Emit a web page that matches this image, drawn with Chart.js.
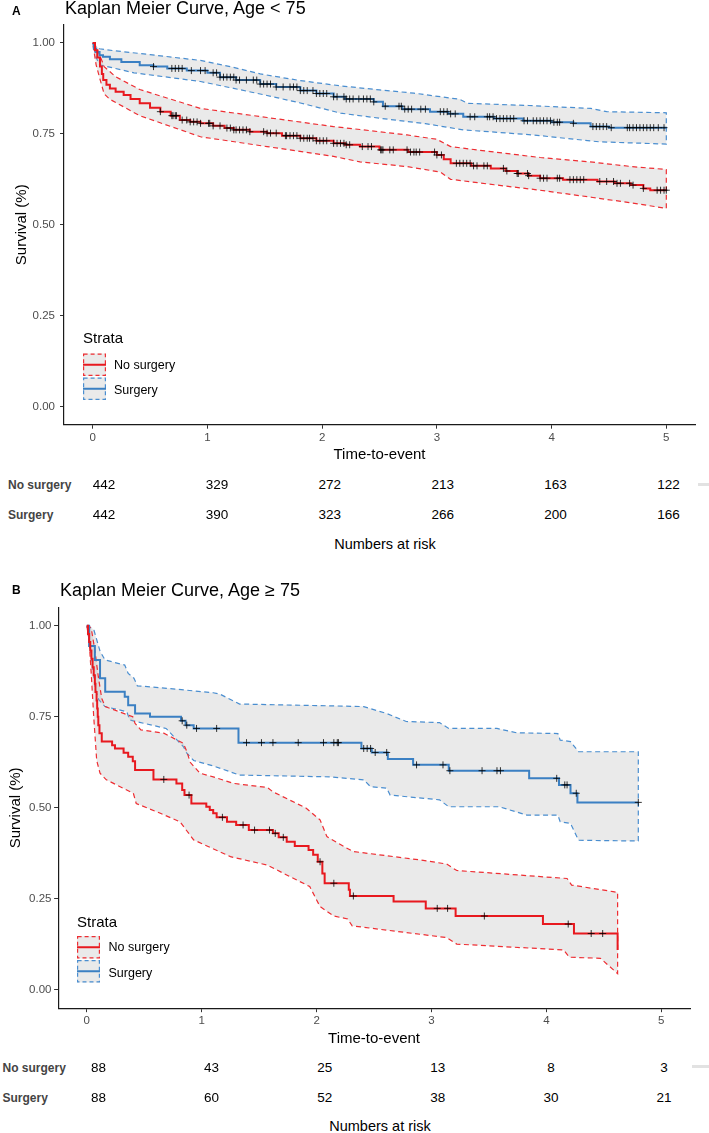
<!DOCTYPE html>
<html>
<head>
<meta charset="utf-8">
<script src="https://cdn.jsdelivr.net/npm/chart.js@4.4.0/dist/chart.umd.min.js"></script>
<style>
  body { margin: 0; background: #fff; width: 709px; height: 1133px; position: relative; overflow: hidden;
         font-family: "Liberation Sans", Arial, sans-serif; }
  canvas { position: absolute; left: 0; }
  .t { position: absolute; white-space: nowrap; line-height: 1; }
</style>
</head>
<body>
<canvas id="chartA" width="709" height="470" style="top:0px"></canvas>
<canvas id="chartB" width="709" height="470" style="top:582px"></canvas>
<script>
const FONT = '"Liberation Sans", Arial, sans-serif';
const TICK_COL = '#4D4D4D';
const RED = '#E8191F', RED_DASH = '#EE2E33';
const BLUE = '#3B80C3', BLUE_DASH = '#4A8ED0';
const BAND_FILL = 'rgba(170,170,170,0.25)';
const MARK = 'rgba(0,0,0,0.8)';

const xTicks = [0, 1, 2, 3, 4, 5];
const yTicks = [0, 0.25, 0.5, 0.75, 1];
const strata = ['No surgery', 'Surgery'];

// ---- Panel A : Age < 75 ----
const aNoTime = [0, 0.02, 0.04, 0.064, 0.08, 0.092, 0.12, 0.15, 0.20, 0.27, 0.33, 0.41, 0.50, 0.59, 0.68, 0.76, 0.85, 0.94, 1.05, 1.15, 1.23, 1.37, 1.52, 1.65, 1.81, 1.95, 2.10, 2.20, 2.33, 2.50, 2.75, 3.00, 3.06, 3.12, 3.30, 3.47, 3.60, 3.70, 3.80, 3.90, 4.10, 4.40, 4.55, 4.69, 4.80, 4.86, 5.00];
const aNoSurv = [1, 0.98, 0.96, 0.935, 0.915, 0.898, 0.885, 0.875, 0.866, 0.857, 0.846, 0.834, 0.822, 0.811, 0.800, 0.788, 0.783, 0.779, 0.772, 0.766, 0.761, 0.756, 0.752, 0.745, 0.738, 0.731, 0.724, 0.720, 0.715, 0.706, 0.700, 0.692, 0.680, 0.669, 0.662, 0.655, 0.648, 0.641, 0.635, 0.628, 0.624, 0.619, 0.614, 0.609, 0.600, 0.595, 0.595];
const aNoUpTime = [0, 0.03, 0.064, 0.10, 0.20, 0.41, 0.94, 1.52, 2.10, 2.33, 2.74, 3.00, 3.12, 3.50, 3.90, 4.36, 4.70, 5.00];
const aNoUp = [1, 0.99, 0.965, 0.935, 0.907, 0.872, 0.820, 0.795, 0.770, 0.762, 0.747, 0.735, 0.715, 0.700, 0.685, 0.672, 0.660, 0.652];
const aNoLoTime = [0, 0.03, 0.064, 0.10, 0.15, 0.41, 0.94, 1.52, 2.10, 2.33, 2.74, 3.03, 3.12, 3.50, 3.90, 4.36, 4.70, 5.00];
const aNoLo = [1, 0.94, 0.90, 0.86, 0.845, 0.800, 0.742, 0.715, 0.688, 0.673, 0.660, 0.645, 0.625, 0.610, 0.595, 0.575, 0.560, 0.545];
const aNoCens = [0.59, 0.69, 0.70, 0.72, 0.73, 0.78, 0.82, 0.85, 0.88, 0.91, 0.94, 1.01, 1.02, 1.05, 1.11, 1.17, 1.20, 1.23, 1.25, 1.28, 1.31, 1.34, 1.37, 1.49, 1.52, 1.55, 1.60, 1.68, 1.69, 1.72, 1.75, 1.78, 1.81, 1.84, 1.87, 1.89, 1.92, 1.95, 1.98, 2.01, 2.04, 2.10, 2.13, 2.16, 2.19, 2.21, 2.24, 2.35, 2.40, 2.43, 2.51, 2.52, 2.53, 2.59, 2.62, 2.74, 2.77, 2.80, 2.82, 2.85, 2.98, 3.00, 3.04, 3.17, 3.20, 3.23, 3.26, 3.29, 3.32, 3.35, 3.41, 3.44, 3.58, 3.61, 3.70, 3.71, 3.79, 3.80, 3.90, 3.93, 3.96, 4.05, 4.07, 4.16, 4.19, 4.22, 4.25, 4.28, 4.42, 4.48, 4.54, 4.57, 4.60, 4.68, 4.71, 4.80, 4.92, 4.95, 4.98, 5.00];

const aSuTime = [0, 0.01, 0.03, 0.06, 0.09, 0.15, 0.25, 0.41, 0.53, 0.65, 0.82, 1.00, 1.11, 1.25, 1.46, 1.60, 1.81, 1.95, 2.10, 2.20, 2.45, 2.53, 2.70, 2.94, 3.10, 3.23, 3.50, 3.75, 4.00, 4.19, 4.34, 4.50, 5.00];
const aSuSurv = [1, 0.985, 0.975, 0.966, 0.962, 0.955, 0.948, 0.939, 0.935, 0.930, 0.924, 0.918, 0.906, 0.898, 0.887, 0.879, 0.869, 0.861, 0.852, 0.846, 0.838, 0.826, 0.818, 0.811, 0.805, 0.797, 0.792, 0.786, 0.782, 0.779, 0.770, 0.767, 0.767];
const aSuUpTime = [0, 0.03, 0.06, 0.18, 0.50, 0.94, 1.20, 1.46, 1.80, 2.16, 2.50, 2.80, 3.20, 3.27, 3.80, 4.34, 4.48, 5.00];
const aSuUp = [1, 0.99, 0.984, 0.979, 0.968, 0.952, 0.935, 0.915, 0.897, 0.882, 0.871, 0.862, 0.845, 0.834, 0.828, 0.820, 0.811, 0.808];
const aSuLoTime = [0, 0.03, 0.06, 0.36, 0.94, 1.23, 1.50, 1.81, 2.16, 2.50, 2.90, 3.23, 3.84, 4.42, 5.00];
const aSuLo = [1, 0.96, 0.94, 0.918, 0.894, 0.875, 0.857, 0.835, 0.807, 0.793, 0.778, 0.761, 0.747, 0.728, 0.722];
const aSuCens = [0.53, 0.69, 0.72, 0.75, 0.78, 0.86, 0.94, 0.98, 1.05, 1.08, 1.11, 1.14, 1.17, 1.20, 1.23, 1.25, 1.28, 1.34, 1.40, 1.43, 1.46, 1.49, 1.52, 1.55, 1.60, 1.66, 1.72, 1.75, 1.78, 1.81, 1.84, 1.87, 1.92, 1.95, 1.98, 2.01, 2.04, 2.10, 2.13, 2.19, 2.21, 2.24, 2.27, 2.32, 2.36, 2.39, 2.42, 2.45, 2.55, 2.67, 2.69, 2.72, 2.75, 2.78, 2.86, 2.90, 3.03, 3.06, 3.09, 3.12, 3.16, 3.29, 3.33, 3.44, 3.46, 3.49, 3.52, 3.55, 3.58, 3.61, 3.64, 3.67, 3.76, 3.79, 3.84, 3.87, 3.90, 3.93, 3.96, 3.99, 4.02, 4.05, 4.07, 4.19, 4.36, 4.39, 4.42, 4.45, 4.48, 4.52, 4.66, 4.68, 4.71, 4.74, 4.77, 4.80, 4.83, 4.86, 4.89, 4.93, 4.98];

const riskANo = [442, 329, 272, 213, 163, 122];
const riskASu = [442, 390, 323, 266, 200, 166];

// ---- Panel B : Age >= 75 ----
const bNoTime = [0, 0.01, 0.02, 0.03, 0.04, 0.05, 0.06, 0.07, 0.075, 0.085, 0.09, 0.095, 0.10, 0.11, 0.13, 0.22, 0.245, 0.32, 0.36, 0.40, 0.42, 0.58, 0.78, 0.83, 0.85, 0.91, 1.04, 1.07, 1.10, 1.13, 1.22, 1.30, 1.41, 1.62, 1.67, 1.74, 1.81, 1.93, 1.97, 2.01, 2.05, 2.07, 2.28, 2.29, 2.67, 2.95, 3.21, 3.97, 4.24, 4.62];
const bNoSurv = [1, 0.977, 0.955, 0.932, 0.909, 0.886, 0.864, 0.841, 0.818, 0.795, 0.773, 0.750, 0.727, 0.705, 0.682, 0.672, 0.663, 0.651, 0.640, 0.628, 0.604, 0.578, 0.567, 0.549, 0.535, 0.512, 0.503, 0.494, 0.485, 0.474, 0.462, 0.453, 0.439, 0.430, 0.419, 0.407, 0.395, 0.384, 0.371, 0.352, 0.320, 0.293, 0.275, 0.258, 0.243, 0.224, 0.203, 0.181, 0.155, 0.110];
const bNoUpTime = [0, 0.02, 0.04, 0.07, 0.10, 0.13, 0.16, 0.40, 0.42, 0.47, 0.67, 0.84, 0.87, 0.90, 0.985, 1.10, 1.28, 1.57, 1.62, 1.91, 2.03, 2.09, 2.26, 2.32, 2.90, 3.13, 3.22, 4.18, 4.22, 4.58, 4.62];
const bNoUp = [1, 1, 0.99, 0.933, 0.860, 0.800, 0.778, 0.750, 0.732, 0.714, 0.705, 0.677, 0.655, 0.625, 0.595, 0.585, 0.567, 0.556, 0.544, 0.499, 0.467, 0.421, 0.390, 0.380, 0.357, 0.346, 0.328, 0.306, 0.288, 0.270, 0.268];
const bNoLoTime = [0, 0.02, 0.04, 0.06, 0.086, 0.115, 0.17, 0.405, 0.43, 0.64, 0.81, 0.93, 1.25, 1.57, 1.77, 1.94, 2.03, 2.15, 2.27, 2.31, 3.13, 3.22, 4.15, 4.20, 4.47, 4.62];
const bNoLo = [1, 0.96, 0.86, 0.75, 0.63, 0.595, 0.577, 0.540, 0.512, 0.485, 0.462, 0.412, 0.366, 0.343, 0.311, 0.284, 0.229, 0.203, 0.195, 0.176, 0.144, 0.126, 0.110, 0.090, 0.087, 0.045];
const bNoCens = [0.67, 0.89, 1.18, 1.36, 1.46, 1.59, 1.64, 1.71, 2.03, 2.15, 2.32, 3.05, 3.14, 3.46, 4.19, 4.39, 4.49];

const bSuTime = [0, 0.02, 0.07, 0.115, 0.16, 0.33, 0.36, 0.42, 0.55, 0.82, 0.86, 0.93, 1.32, 2.39, 2.48, 2.62, 2.84, 3.15, 3.85, 4.11, 4.21, 4.27, 4.80];
const bSuSurv = [1, 0.944, 0.906, 0.856, 0.819, 0.805, 0.782, 0.759, 0.750, 0.739, 0.727, 0.718, 0.679, 0.663, 0.652, 0.634, 0.618, 0.602, 0.581, 0.563, 0.540, 0.515, 0.515];
const bSuUpTime = [0, 0.06, 0.115, 0.158, 0.33, 0.36, 0.41, 0.44, 0.70, 1.10, 1.16, 1.33, 2.12, 2.41, 2.61, 2.78, 3.07, 3.15, 3.57, 3.74, 4.10, 4.12, 4.21, 4.28, 4.80];
const bSuUp = [1, 0.99, 0.93, 0.906, 0.892, 0.869, 0.856, 0.835, 0.828, 0.816, 0.812, 0.785, 0.780, 0.778, 0.759, 0.737, 0.734, 0.718, 0.718, 0.706, 0.704, 0.686, 0.682, 0.654, 0.654];
const bSuLoTime = [0, 0.02, 0.046, 0.075, 0.104, 0.158, 0.347, 0.375, 0.69, 0.84, 0.87, 0.93, 1.10, 1.33, 2.12, 2.41, 2.47, 2.61, 2.64, 3.07, 3.15, 3.59, 3.83, 4.10, 4.12, 4.21, 4.28, 4.80];
const bSuLo = [1, 0.96, 0.897, 0.824, 0.797, 0.778, 0.764, 0.741, 0.718, 0.668, 0.650, 0.630, 0.615, 0.590, 0.585, 0.577, 0.558, 0.554, 0.535, 0.522, 0.503, 0.503, 0.480, 0.480, 0.462, 0.457, 0.411, 0.409];
const bSuCens = [0.83, 0.87, 0.955, 1.13, 1.39, 1.52, 1.62, 1.84, 2.06, 2.15, 2.18, 2.19, 2.41, 2.44, 2.47, 2.51, 2.61, 2.87, 3.10, 3.16, 3.44, 3.57, 3.60, 4.09, 4.16, 4.18, 4.26, 4.80];

const riskBNo = [88, 43, 25, 13, 8, 3];
const riskBSu = [88, 60, 52, 38, 30, 21];

function pts(ts, vs) {
  return ts.map((t, i) => ({ x: t, y: vs[i] }));
}

// survival value of the step curve at time t (censor marks sit on the curve)
function stepAt(ts, vs, t) {
  let v = vs[0];
  for (let i = 0; i < ts.length; i++) {
    if (ts[i] <= t) v = vs[i]; else break;
  }
  return v;
}

function kmSets(time, surv, upT, up, loT, lo, cens, color, dash) {
  const band = pts(upT, up).concat(pts(loT, lo).reverse());
  return [
    { data: band, fill: 'shape', backgroundColor: BAND_FILL, borderColor: dash, borderWidth: 1.2,
      borderDash: [5, 3.5], pointRadius: 0, order: 2 },
    { data: pts(time, surv), stepped: true, fill: false, borderColor: color, borderWidth: 2,
      pointRadius: 0, order: 1 },
    { data: cens.map(t => ({ x: t, y: stepAt(time, surv, t) })), showLine: false, pointStyle: 'cross',
      pointRadius: 3.5, pointBorderColor: MARK, pointBackgroundColor: MARK, pointBorderWidth: 1, order: 0 }
  ];
}

function legendKeys(g) {
  return {
    id: 'strataKeys',
    afterDatasetsDraw(chart) {
      const c = chart.ctx;
      [[RED, RED_DASH], [BLUE, BLUE_DASH]].forEach(([lc, dc], i) => {
        const x = g.keyX, y = g.keyY - g.top + i * g.keyStep, w = 23, h = 22.5;
        c.save();
        c.fillStyle = BAND_FILL;
        c.fillRect(x, y, w, h);
        c.strokeStyle = dc; c.lineWidth = 1.2; c.setLineDash([4, 3]);
        c.strokeRect(x + 0.6, y + 0.6, w - 1.2, h - 1.2);
        c.setLineDash([]); c.strokeStyle = lc; c.lineWidth = 2;
        c.beginPath(); c.moveTo(x, y + h / 2); c.lineTo(x + w, y + h / 2); c.stroke();
        c.restore();
      });
    }
  };
}

function makeChart(id, datasets, g) {
  return new Chart(document.getElementById(id), {
    type: 'line',
    data: { datasets },
    options: {
      responsive: false,
      animation: false,
      devicePixelRatio: 1,
      layout: { padding: { left: 0, right: g.padR, top: g.padT, bottom: 0 } },
      plugins: { legend: { display: false }, tooltip: { enabled: false } },
      elements: { line: { tension: 0 } },
      scales: {
        x: {
          type: 'linear', min: -0.25, max: 5.25,
          afterBuildTicks: ax => { ax.ticks = xTicks.map(v => ({ value: v })); },
          afterFit: ax => { ax.height = g.xH; },
          ticks: { color: TICK_COL, font: { family: FONT, size: 11.5 }, padding: g.xTickPad,
                   autoSkip: false, maxRotation: 0, callback: v => String(v) },
          grid: { drawOnChartArea: false, drawTicks: true, tickLength: 4, tickColor: '#333', tickWidth: 1 },
          border: { display: true, color: '#1a1a1a', width: 1.2 },
          title: { display: true, text: 'Time-to-event', color: '#000', font: { family: FONT, size: 15 },
                   padding: { top: 0, bottom: g.xTitlePad } }
        },
        y: {
          type: 'linear', min: -0.05, max: 1.05,
          afterBuildTicks: ax => { ax.ticks = yTicks.map(v => ({ value: v })); },
          afterFit: ax => { ax.width = g.yW; },
          ticks: { color: TICK_COL, font: { family: FONT, size: 11.5 }, padding: g.yTickPad,
                   callback: v => Number(v).toFixed(2) },
          grid: { drawOnChartArea: false, drawTicks: true, tickLength: 4, tickColor: '#333', tickWidth: 1 },
          border: { display: true, color: '#1a1a1a', width: 1.2 },
          title: { display: true, text: 'Survival (%)', color: '#000', font: { family: FONT, size: 15 },
                   padding: { top: g.yTitlePad, bottom: 0 } }
        }
      }
    },
    plugins: [legendKeys(g)]
  });
}

makeChart('chartA',
  kmSets(aNoTime, aNoSurv, aNoUpTime, aNoUp, aNoLoTime, aNoLo, aNoCens, RED, RED_DASH)
    .concat(kmSets(aSuTime, aSuSurv, aSuUpTime, aSuUp, aSuLoTime, aSuLo, aSuCens, BLUE, BLUE_DASH)),
  { top: 0, yW: 64, xH: 45.3, padR: 14, padT: 24.8, xTickPad: 2, yTickPad: 5, xTitlePad: 6.5, yTitlePad: 12.5,
    keyX: 83, keyY: 353.5, keyStep: 24 });

makeChart('chartB',
  kmSets(bNoTime, bNoSurv, bNoUpTime, bNoUp, bNoLoTime, bNoLo, bNoCens, RED, RED_DASH)
    .concat(kmSets(bSuTime, bSuSurv, bSuUpTime, bSuUp, bSuLoTime, bSuLo, bSuCens, BLUE, BLUE_DASH)),
  { top: 582, yW: 58.1, xH: 43.8, padR: 19, padT: 25.5, xTickPad: 2.2, yTickPad: 2.6, xTitlePad: 4.5, yTitlePad: 7,
    keyX: 77, keyY: 936, keyStep: 24 });

// ---- text: titles, legend labels, numbers-at-risk tables ----
function addText(str, x, base, size, opts = {}) {
  const d = document.createElement('div');
  d.className = 't';
  d.textContent = str;
  d.style.left = x + 'px';
  d.style.top = (base - 0.8465 * size) + 'px';
  d.style.fontSize = size + 'px';
  d.style.color = opts.color || '#000';
  if (opts.bold) d.style.fontWeight = 'bold';
  if (opts.center) d.style.transform = 'translateX(-50%)';
  document.body.appendChild(d);
}

function addBar(x, y, w) {
  const d = document.createElement('div');
  d.style.cssText = `position:absolute;left:${x}px;top:${y}px;width:${w}px;height:3px;background:#e2e2e2;`;
  document.body.appendChild(d);
}

function panelText(p) {
  addText(p.tag, 12, p.tagBase, 12, { bold: true });
  addText(p.title, p.titleX, p.titleBase, 18);
  addText('Strata', p.keyX, p.strataBase, 15);
  strata.forEach((s, i) => addText(s, p.labX, p.labBase + i * p.labStep, 12.5));
  [p.riskNo, p.riskSu].forEach((row, r) => {
    const base = p.rowBase + r * p.rowStep;
    addText(strata[r], p.rowLabX, base, 12, { bold: true, color: '#444' });
    row.forEach((n, i) => addText(String(n), p.col0 + i * p.colStep, base, 13.5, { center: true }));
  });
  addText('Numbers at risk', p.narX, p.narBase, 14.5, { center: true });
  addBar(p.barX, p.barY, 709 - p.barX);
}

panelText({ tag: 'A', tagBase: 15.3, title: 'Kaplan Meier Curve, Age < 75', titleX: 65, titleBase: 13.8,
  keyX: 83, strataBase: 343, labX: 114, labBase: 369.5, labStep: 25,
  riskNo: riskANo, riskSu: riskASu, rowLabX: 8, rowBase: 489, rowStep: 30, col0: 104, colStep: 112.9,
  narX: 385, narBase: 549.5, barX: 698, barY: 483 });

panelText({ tag: 'B', tagBase: 594.5, title: 'Kaplan Meier Curve, Age \u2265 75', titleX: 60, titleBase: 596,
  keyX: 77, strataBase: 926.5, labX: 108.5, labBase: 951.5, labStep: 26,
  riskNo: riskBNo, riskSu: riskBSu, rowLabX: 2.5, rowBase: 1072.5, rowStep: 29.7, col0: 98.5, colStep: 113.1,
  narX: 380, narBase: 1131.5, barX: 692, barY: 1065 });
</script>
</body>
</html>
